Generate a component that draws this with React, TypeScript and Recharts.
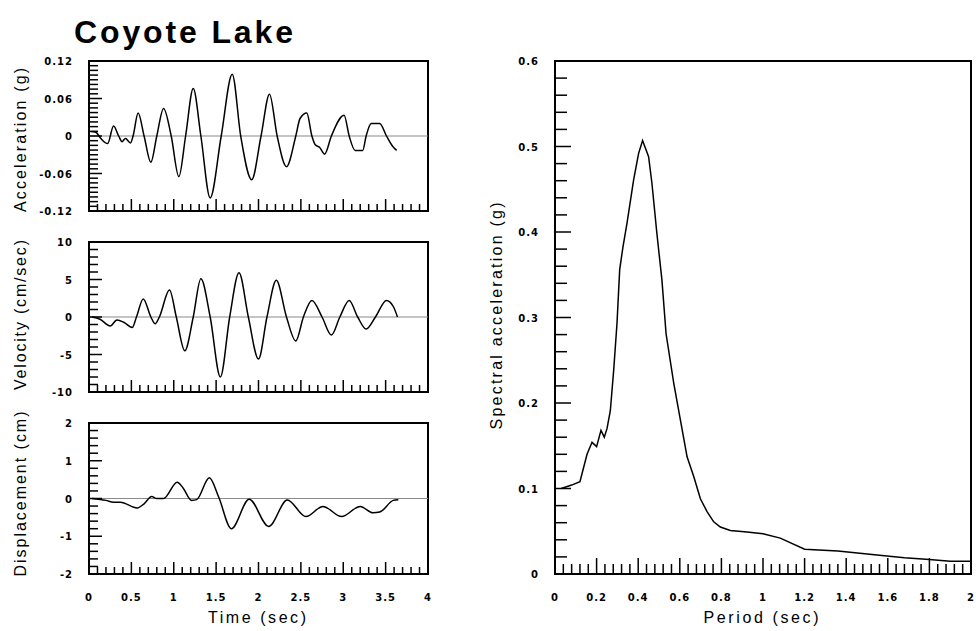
import React from 'react';
import { LineChart, Line, XAxis, YAxis, ReferenceLine, ReferenceArea } from 'recharts';

const W = 976;
const H = 631;
const AXIS_W = 40;
const AXIS_H = 30;

// Ground acceleration (g) vs time (sec)
const accTime = [0.02, 0.08, 0.14, 0.22, 0.29, 0.35, 0.39, 0.43, 0.49, 0.52, 0.58, 0.65, 0.73, 0.8, 0.88, 0.97, 1.06, 1.14, 1.23, 1.32, 1.43, 1.56, 1.69, 1.79, 1.92, 2.03, 2.13, 2.22, 2.33, 2.44, 2.49, 2.57, 2.63, 2.67, 2.72, 2.78, 2.86, 3.01, 3.07, 3.14, 3.23, 3.27, 3.33, 3.43, 3.51, 3.58, 3.63];
const accG = [0.007, 0.006, -0.004, -0.012, 0.016, 0.0, -0.009, -0.004, -0.011, 0.0, 0.037, 0.0, -0.042, 0.0, 0.044, 0.0, -0.065, 0.0, 0.076, 0.0, -0.099, 0.0, 0.099, 0.0, -0.07, 0.0, 0.067, 0.0, -0.049, 0.0, 0.028, 0.037, 0.0, -0.014, -0.018, -0.029, 0.0, 0.033, 0.0, -0.023, -0.023, 0.0, 0.02, 0.02, 0.0, -0.016, -0.023];

// Ground velocity (cm/sec)
const velTime = [0.035, 0.13, 0.25, 0.33, 0.41, 0.51, 0.56, 0.64, 0.73, 0.78, 0.83, 0.95, 1.03, 1.13, 1.23, 1.32, 1.43, 1.55, 1.66, 1.77, 1.88, 2.0, 2.1, 2.21, 2.33, 2.44, 2.53, 2.63, 2.75, 2.86, 2.96, 3.07, 3.17, 3.27, 3.38, 3.51, 3.59, 3.64];
const velCm = [0, -0.3, -1.2, -0.4, -0.7, -1.4, 0, 2.4, 0, -0.9, 0, 3.6, 0, -4.5, 0, 5.1, 0, -8.0, 0, 5.9, 0, -5.6, 0, 4.9, 0, -3.2, 0, 2.2, 0, -2.4, 0, 2.2, 0, -1.6, 0, 2.2, 1.4, 0];

// Ground displacement (cm)
const dispTime = [0.035, 0.2, 0.29, 0.37, 0.57, 0.65, 0.74, 0.8, 0.88, 1.04, 1.11, 1.21, 1.27, 1.42, 1.53, 1.68, 1.89, 2.12, 2.34, 2.56, 2.76, 2.98, 3.2, 3.35, 3.43, 3.59, 3.65];
const dispCm = [0, -0.05, -0.1, -0.1, -0.25, -0.14, 0.05, 0.0, 0.0, 0.43, 0.28, -0.05, -0.03, 0.55, 0.04, -0.8, -0.02, -0.74, -0.04, -0.48, -0.21, -0.48, -0.21, -0.38, -0.36, -0.05, -0.03];

// Response spectrum: spectral acceleration (g) vs period (sec)
const period = [0.03, 0.08, 0.12, 0.154, 0.178, 0.2, 0.221, 0.237, 0.25, 0.266, 0.282, 0.298, 0.311, 0.327, 0.346, 0.378, 0.402, 0.421, 0.45, 0.466, 0.49, 0.514, 0.534, 0.571, 0.603, 0.635, 0.667, 0.699, 0.731, 0.763, 0.795, 0.843, 0.923, 1.0, 1.083, 1.2, 1.36, 1.56, 1.68, 1.8, 1.9, 2.0];
const spectralG = [0.1, 0.104, 0.108, 0.14, 0.154, 0.149, 0.168, 0.16, 0.17, 0.191, 0.238, 0.293, 0.356, 0.383, 0.41, 0.461, 0.492, 0.507, 0.488, 0.457, 0.398, 0.344, 0.281, 0.223, 0.18, 0.137, 0.114, 0.088, 0.073, 0.061, 0.055, 0.051, 0.049, 0.047, 0.042, 0.029, 0.027, 0.022, 0.019, 0.017, 0.015, 0.015];

// Labelled ticks
const timeLabels = [0, 0.5, 1, 1.5, 2, 2.5, 3, 3.5, 4];
const accLabels = [-0.12, -0.06, 0, 0.06, 0.12];
const velLabels = [-10, -5, 0, 5, 10];
const dispLabels = [-2, -1, 0, 1, 2];
const periodLabels = [0, 0.2, 0.4, 0.6, 0.8, 1, 1.2, 1.4, 1.6, 1.8, 2];
const spectralLabels = [0, 0.1, 0.2, 0.3, 0.4, 0.5, 0.6];

const steps = (from: number, to: number, n: number) =>
  Array.from({ length: n + 1 }, (_, i) => from + ((to - from) * i) / n);

const pairs = (xs: number[], ys: number[]) => xs.map((x, i) => ({ x, y: ys[i] }));

const isLabelled = (labels: number[], v: number) => labels.some((l) => Math.abs(l - v) < 1e-9);
const fmt = (labels: number[], v: number) => {
  const l = labels.find((q) => Math.abs(q - v) < 1e-9);
  return l === undefined ? '' : String(l);
};

const TICK_FONT = { fontFamily: 'DejaVu Sans', fontWeight: 700, fontSize: 10, letterSpacing: 1 };
const FRAME = { stroke: '#000', strokeWidth: 2 };

// ticks point inward from the frame, longer at labelled values
function LeftTick(props: any) {
  const { x, y, payload, labels, minor, major } = props;
  const big = isLabelled(labels, payload.value);
  return (
    <g>
      <line x1={x} x2={x + (big ? major : minor)} y1={y} y2={y} stroke="#000" strokeWidth={1.5} />
      {big && (
        <text x={x - 16} y={y + 4} textAnchor="end" fill="#000" {...TICK_FONT}>
          {fmt(labels, payload.value)}
        </text>
      )}
    </g>
  );
}

function BottomTick(props: any) {
  const { x, y, payload, labels, minor, major, showText } = props;
  const big = isLabelled(labels, payload.value);
  return (
    <g>
      <line x1={x} x2={x} y1={y} y2={y - (big ? major : minor)} stroke="#000" strokeWidth={1.5} />
      {big && showText && (
        <text x={x} y={y + 27} textAnchor="middle" fill="#000" {...TICK_FONT}>
          {fmt(labels, payload.value)}
        </text>
      )}
    </g>
  );
}

type PanelProps = {
  left: number;
  top: number;
  width: number;
  height: number;
  data: { x: number; y: number }[];
  xDomain: [number, number];
  yDomain: [number, number];
  xTicks: number[];
  yTicks: number[];
  xLabels: number[];
  yLabels: number[];
  showXText: boolean;
  zeroLine: boolean;
  curve: 'monotone' | 'linear';
  tickLen: { xMinor: number; xMajor: number; yMinor: number; yMajor: number };
};

function Panel(p: PanelProps) {
  const margin = {
    top: p.top,
    left: p.left - AXIS_W,
    right: W - p.left - p.width,
    bottom: H - p.top - p.height - AXIS_H,
  };
  return (
    <div style={{ position: 'absolute', left: 0, top: 0 }}>
      <LineChart width={W} height={H} data={p.data} margin={margin}>
        <XAxis
          dataKey="x"
          type="number"
          domain={p.xDomain}
          allowDataOverflow
          ticks={p.xTicks}
          interval={0}
          height={AXIS_H}
          axisLine={FRAME}
          tickLine={false}
          tickSize={0}
          tickMargin={0}
          tick={(t: any) => (
            <BottomTick {...t} labels={p.xLabels} minor={p.tickLen.xMinor} major={p.tickLen.xMajor} showText={p.showXText} />
          )}
        />
        <YAxis
          type="number"
          domain={p.yDomain}
          allowDataOverflow
          ticks={p.yTicks}
          interval={0}
          width={AXIS_W}
          axisLine={FRAME}
          tickLine={false}
          tickSize={0}
          tickMargin={0}
          tick={(t: any) => <LeftTick {...t} labels={p.yLabels} minor={p.tickLen.yMinor} major={p.tickLen.yMajor} />}
        />
        {p.zeroLine && <ReferenceLine y={0} stroke="#8a8a8a" strokeWidth={1.2} />}
        {/* box around the plot area (top and right edges) */}
        <ReferenceArea
          x1={p.xDomain[0]}
          x2={p.xDomain[1]}
          y1={p.yDomain[0]}
          y2={p.yDomain[1]}
          ifOverflow="visible"
          fill="none"
          stroke="#000"
          strokeWidth={2}
        />
        <Line
          dataKey="y"
          type={p.curve}
          stroke="#000"
          strokeWidth={1.5}
          dot={false}
          isAnimationActive={false}
        />
      </LineChart>
    </div>
  );
}

const timeTicks = steps(0, 4, 40);
const shortTicks = { xMinor: 7, xMajor: 12, yMinor: 9, yMajor: 13 };

export default function App() {
  const label = { fontFamily: 'Liberation Sans', fontSize: 16, fill: '#000' };
  return (
    <div style={{ position: 'absolute', left: 0, top: 0, width: W, height: H, background: '#fff' }}>
      <Panel
        left={89} top={61} width={339} height={150}
        data={pairs(accTime, accG)}
        xDomain={[0, 4]} yDomain={[-0.12, 0.12]}
        xTicks={timeTicks} yTicks={steps(-0.12, 0.12, 32)}
        xLabels={timeLabels} yLabels={accLabels}
        showXText={false} zeroLine curve="monotone" tickLen={shortTicks}
      />
      <Panel
        left={89} top={242} width={339} height={150}
        data={pairs(velTime, velCm)}
        xDomain={[0, 4]} yDomain={[-10, 10]}
        xTicks={timeTicks} yTicks={steps(-10, 10, 20)}
        xLabels={timeLabels} yLabels={velLabels}
        showXText={false} zeroLine curve="monotone" tickLen={shortTicks}
      />
      <Panel
        left={89} top={423} width={339} height={151}
        data={pairs(dispTime, dispCm)}
        xDomain={[0, 4]} yDomain={[-2, 2]}
        xTicks={timeTicks} yTicks={steps(-2, 2, 20)}
        xLabels={timeLabels} yLabels={dispLabels}
        showXText zeroLine curve="monotone" tickLen={shortTicks}
      />
      <Panel
        left={555} top={61} width={416} height={513}
        data={pairs(period, spectralG)}
        xDomain={[0, 2]} yDomain={[0, 0.6]}
        xTicks={steps(0, 2, 50)} yTicks={steps(0, 0.6, 30)}
        xLabels={periodLabels} yLabels={spectralLabels}
        showXText zeroLine={false} curve="linear"
        tickLen={{ xMinor: 10, xMajor: 16, yMinor: 12, yMajor: 16 }}
      />
      <svg width={W} height={H} style={{ position: 'absolute', left: 0, top: 0, pointerEvents: 'none' }}>
        <text x={74} y={43} fontFamily="Liberation Sans" fontWeight={700} fontSize={32} textLength={219} lengthAdjust="spacing">
          Coyote Lake
        </text>
        <text transform="translate(26,140) rotate(-90)" textAnchor="middle" textLength={144} lengthAdjust="spacing" {...label}>
          Acceleration (g)
        </text>
        <text transform="translate(26,315) rotate(-90)" textAnchor="middle" textLength={150} lengthAdjust="spacing" {...label}>
          Velocity (cm/sec)
        </text>
        <text transform="translate(26,494) rotate(-90)" textAnchor="middle" textLength={165} lengthAdjust="spacing" {...label}>
          Displacement (cm)
        </text>
        <text transform="translate(502,316) rotate(-90)" textAnchor="middle" textLength={227} lengthAdjust="spacing" {...label}>
          Spectral acceleration (g)
        </text>
        <text x={257} y={623} textAnchor="middle" textLength={98} lengthAdjust="spacing" {...label}>
          Time (sec)
        </text>
        <text x={761} y={623} textAnchor="middle" textLength={115} lengthAdjust="spacing" {...label}>
          Period (sec)
        </text>
      </svg>
    </div>
  );
}
